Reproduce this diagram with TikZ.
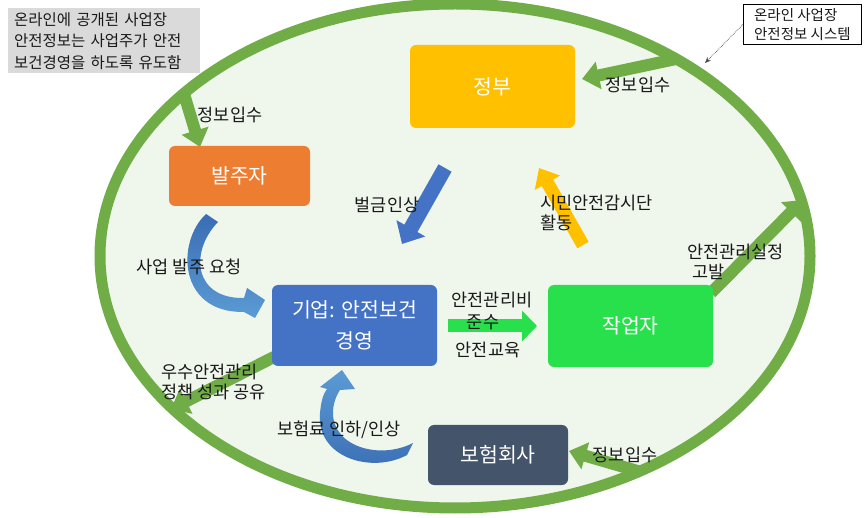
\documentclass[tikz,border=0pt]{standalone}
\usepackage{fontspec}
\setmainfont{Noto Sans CJK KR}
\usetikzlibrary{arrows.meta,shadings}
\definecolor{egreen}{HTML}{70AD47}
\definecolor{efill}{HTML}{EFF6EC}
\definecolor{gyellow}{HTML}{FFC000}
\definecolor{gorange}{HTML}{ED7D31}
\definecolor{gblue}{HTML}{4472C4}
\definecolor{ggreen}{HTML}{27E04B}
\definecolor{gslate}{HTML}{44546A}
\definecolor{lblue}{HTML}{5B9BD5}
\definecolor{dblue}{HTML}{3A6DB3}
\definecolor{tgray}{HTML}{DADADA}
\begin{document}
\begin{tikzpicture}[x=1pt,y=-1pt,
  box/.style={rounded corners=6pt, text=white, font=\fontsize{20.5}{31}\selectfont, align=center, inner sep=0pt},
  lbl/.style={font=\fontsize{17.5}{20}\selectfont, text=black!90, inner sep=0pt},
  garrow/.style={draw=egreen, line width=12pt, -{Triangle[width=27pt,length=17pt]}},
]
\useasboundingbox (0,0) rectangle (865,518);
\fill[white] (0,0) rectangle (865,518);
% system ellipse
\draw[fill=efill, draw=egreen, line width=11pt] (455,256) ellipse [x radius=355pt, y radius=252pt];

% named points on the ellipse and boxes
\coordinate (e1) at (184,94);
\coordinate (e2) at (676,59);
\coordinate (e3) at (803,200);
\coordinate (e5) at (171,409);
\coordinate (e6) at (641,472);
\coordinate (p1) at (200,147);
\coordinate (p2) at (582,79);
\coordinate (p3) at (711,293);
\coordinate (p5) at (276,356);
\coordinate (p6) at (569,451);

% green arrows
\draw[garrow] (e1) -- (p1);
\draw[garrow] (e2) -- (p2);
\draw[garrow] (p3) -- (e3);
\draw[garrow] (p5) -- (e5);
\draw[garrow] (e6) -- (p6);

% boxes
\node[box, fill=gyellow, minimum width=165pt, minimum height=83pt] (gov) at (492.5,86.5) {정부};
\node[box, fill=gorange, minimum width=141pt, minimum height=60pt] (bal) at (239.5,176) {발주자};
\node[box, fill=gblue, minimum width=165pt, minimum height=81pt] (corp) at (354.5,325.5) {기업: 안전보건\\경영};
\node[box, fill=ggreen, minimum width=165pt, minimum height=82pt] (work) at (630.5,326) {작업자};
\node[box, fill=gslate, minimum width=140pt, minimum height=60pt] (ins) at (498,455) {보험회사};

% middle green arrow
\coordinate (m1) at (448,326);
\coordinate (m2) at (537,326);
\draw[draw=ggreen, line width=13pt, -{Triangle[width=30pt,length=15pt]}] (m1) -- (m2);

% blue and yellow straight arrows
\coordinate (b1) at (445,168);
\coordinate (b2) at (402,244);
\draw[draw=gblue, line width=15pt, -{Triangle[width=32pt,length=18pt]}] (b1) -- (b2);
\coordinate (y1) at (583,245);
\coordinate (y2) at (539,168);
\draw[draw=gyellow, line width=13pt, -{Triangle[width=28pt,length=17pt]}] (y1) -- (y2);

% curved arrow: 사업 발주 요청
\shade[top color=dblue, bottom color=lblue]
  (206,214) .. controls (176,242) and (178,313) .. (244,312) -- (255,318) -- (265,300) -- (247,288) -- (244,298)
  .. controls (194,299) and (189,252) .. (218,222) -- cycle;
% curved arrow: 보험료 인하/인상
\shade[top color=lblue, bottom color=dblue]
  (407,455) .. controls (372,474) and (316,458) .. (320,413) .. controls (321,402) and (323,394) .. (327,389)
  -- (320,387) -- (342,370) -- (355,389) -- (340,390)
  .. controls (336,396) and (333,404) .. (333,413) .. controls (333,447) and (380,460) .. (413,443) -- cycle;

% labels
\node[lbl] (l1) at (230,115) {정보입수};
\node[lbl] (l2) at (638,85) {정보입수};
\node[lbl] (l3) at (387,205) {벌금인상};
\node[lbl, anchor=west] (l4a) at (540,203) {시민안전감시단};
\node[lbl, anchor=west] (l4b) at (540,223) {활동};
\node[lbl] (l5) at (189,267) {사업 발주 요청};
\node[lbl] (l6a) at (492,300) {안전관리비};
\node[lbl] (l6b) at (483,322) {준수};
\node[lbl] (l6c) at (488,350) {안전교육};
\node[lbl, anchor=west] (l7a) at (687,252) {안전관리실정};
\node[lbl, anchor=west] (l7b) at (692,272) {고발};
\node[lbl, anchor=west] (l8a) at (161,372) {우수안전관리};
\node[lbl, anchor=west] (l8b) at (161,392) {정책 성과 공유};
\node[lbl, anchor=west] (l9) at (277,430) {보험료 인하/인상};
\node[lbl] (l10) at (625,455) {정보입수};

% note box
\node[fill=tgray, anchor=north west, text width=180pt, inner xsep=6pt, inner ysep=4pt, align=left,
  font=\fontsize{15.5}{21.5}\selectfont, text=black!90] (note) at (8,8)
  {온라인에 공개된 사업장\\안전정보는 사업주가 안전\\보건경영을 하도록 유도함};

% callout
\node[draw=black, fill=white, line width=0.8pt, anchor=north west, align=left, inner xsep=8pt, inner ysep=4pt,
  minimum width=118pt, font=\fontsize{14.5}{19}\selectfont, text=black!90] (sys) at (743,4)
  {온라인 사업장\\안전정보 시스템};
\coordinate (sysp) at (705,63);
\draw[densely dotted, black!70, line width=0.7pt, -{Stealth[length=6pt,width=5pt]}] (sys.west) -- (sysp);
\end{tikzpicture}
\end{document}
